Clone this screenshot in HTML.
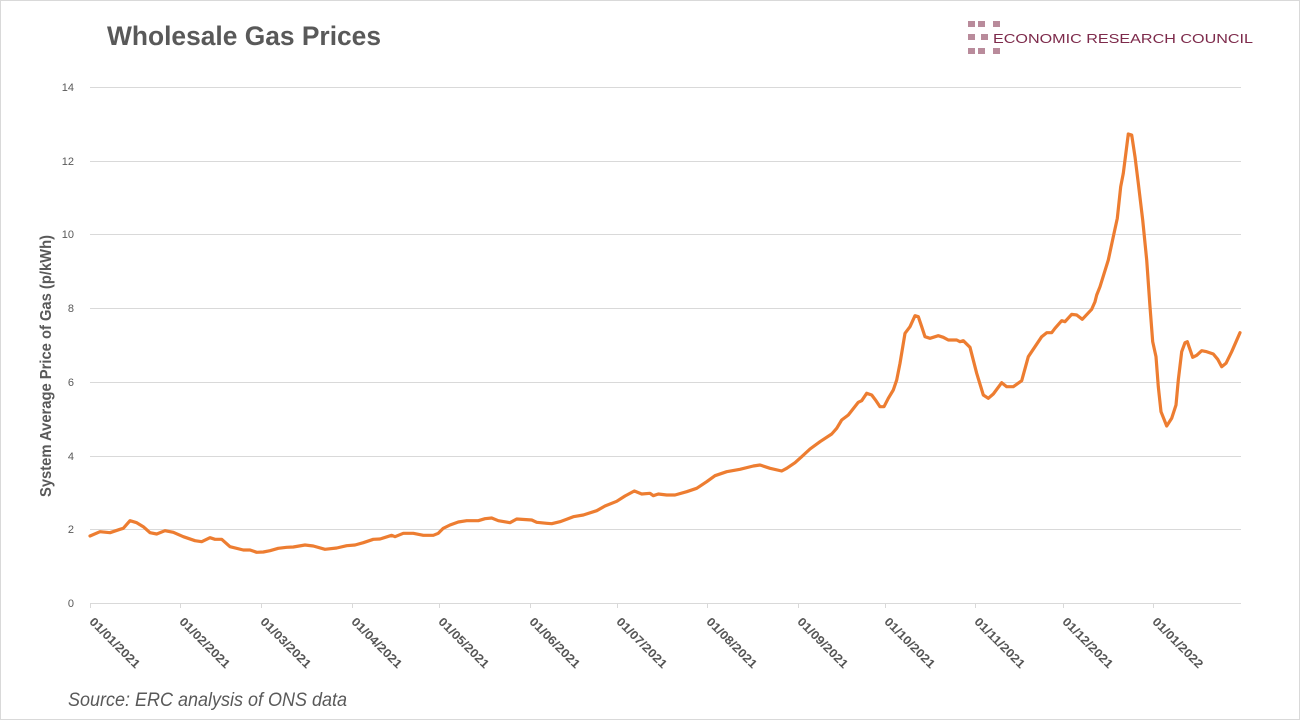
<!DOCTYPE html>
<html>
<head>
<meta charset="utf-8">
<style>
html,body{margin:0;padding:0;background:#fff;}
svg{display:block;}
</style>
</head>
<body>
<svg width="1300" height="720" viewBox="0 0 1300 720" xmlns="http://www.w3.org/2000/svg">
<rect x="0.5" y="0.5" width="1299" height="719" fill="#fff" stroke="#d9d9d9" stroke-width="1"/>

<!-- Title -->
<text x="107" y="45" font-family="Liberation Sans, sans-serif" font-weight="bold" font-size="27" fill="#595959" textLength="274" lengthAdjust="spacingAndGlyphs">Wholesale Gas Prices</text>

<!-- Logo -->
<g fill="#b98b9b">
<rect x="968" y="21" width="7" height="6"/>
<rect x="978" y="21" width="7" height="6"/>
<rect x="993" y="21" width="7" height="6"/>
<rect x="968" y="34" width="7" height="6"/>
<rect x="981" y="34" width="7" height="6"/>
<rect x="968" y="48" width="7" height="6"/>
<rect x="978" y="48" width="7" height="6"/>
<rect x="993" y="48" width="7" height="6"/>
</g>
<text x="993" y="43" font-family="Liberation Sans, sans-serif" font-size="12.5" fill="#7d2a4b" textLength="260" lengthAdjust="spacingAndGlyphs">ECONOMIC RESEARCH COUNCIL</text>

<!-- Gridlines -->
<g stroke="#d9d9d9" stroke-width="1">
<line x1="90" y1="87.5" x2="1241" y2="87.5"/>
<line x1="90" y1="161.5" x2="1241" y2="161.5"/>
<line x1="90" y1="234.5" x2="1241" y2="234.5"/>
<line x1="90" y1="308.5" x2="1241" y2="308.5"/>
<line x1="90" y1="382.5" x2="1241" y2="382.5"/>
<line x1="90" y1="456.5" x2="1241" y2="456.5"/>
<line x1="90" y1="529.5" x2="1241" y2="529.5"/>
<line x1="90" y1="603.5" x2="1241" y2="603.5"/>
<!-- ticks -->
<line x1="90.5" y1="603" x2="90.5" y2="608"/>
<line x1="180.5" y1="603" x2="180.5" y2="608"/>
<line x1="261.5" y1="603" x2="261.5" y2="608"/>
<line x1="352.5" y1="603" x2="352.5" y2="608"/>
<line x1="439.5" y1="603" x2="439.5" y2="608"/>
<line x1="530.5" y1="603" x2="530.5" y2="608"/>
<line x1="617.5" y1="603" x2="617.5" y2="608"/>
<line x1="707.5" y1="603" x2="707.5" y2="608"/>
<line x1="798.5" y1="603" x2="798.5" y2="608"/>
<line x1="885.5" y1="603" x2="885.5" y2="608"/>
<line x1="975.5" y1="603" x2="975.5" y2="608"/>
<line x1="1063.5" y1="603" x2="1063.5" y2="608"/>
<line x1="1153.5" y1="603" x2="1153.5" y2="608"/>
</g>

<!-- Y tick labels -->
<g font-family="Liberation Sans, sans-serif" font-size="11" fill="#595959" text-anchor="end">
<text x="74" y="91">14</text>
<text x="74" y="165">12</text>
<text x="74" y="238">10</text>
<text x="74" y="312">8</text>
<text x="74" y="386">6</text>
<text x="74" y="460">4</text>
<text x="74" y="533">2</text>
<text x="74" y="607">0</text>
</g>

<!-- Y axis title -->
<text transform="translate(51,366) rotate(-90)" text-anchor="middle" font-family="Liberation Sans, sans-serif" font-weight="bold" font-size="15.5" fill="#595959" textLength="262" lengthAdjust="spacingAndGlyphs">System Average Price of Gas (p/kWh)</text>

<!-- X labels -->
<g font-family="Liberation Sans, sans-serif" font-size="12" font-weight="bold" fill="#555555">
<text transform="translate(95,616) rotate(45)" y="9" textLength="66" lengthAdjust="spacingAndGlyphs">01/01/2021</text>
<text transform="translate(185,616) rotate(45)" y="9" textLength="66" lengthAdjust="spacingAndGlyphs">01/02/2021</text>
<text transform="translate(266,616) rotate(45)" y="9" textLength="66" lengthAdjust="spacingAndGlyphs">01/03/2021</text>
<text transform="translate(357,616) rotate(45)" y="9" textLength="66" lengthAdjust="spacingAndGlyphs">01/04/2021</text>
<text transform="translate(444,616) rotate(45)" y="9" textLength="66" lengthAdjust="spacingAndGlyphs">01/05/2021</text>
<text transform="translate(535,616) rotate(45)" y="9" textLength="66" lengthAdjust="spacingAndGlyphs">01/06/2021</text>
<text transform="translate(622,616) rotate(45)" y="9" textLength="66" lengthAdjust="spacingAndGlyphs">01/07/2021</text>
<text transform="translate(712,616) rotate(45)" y="9" textLength="66" lengthAdjust="spacingAndGlyphs">01/08/2021</text>
<text transform="translate(803,616) rotate(45)" y="9" textLength="66" lengthAdjust="spacingAndGlyphs">01/09/2021</text>
<text transform="translate(890,616) rotate(45)" y="9" textLength="66" lengthAdjust="spacingAndGlyphs">01/10/2021</text>
<text transform="translate(980,616) rotate(45)" y="9" textLength="66" lengthAdjust="spacingAndGlyphs">01/11/2021</text>
<text transform="translate(1068,616) rotate(45)" y="9" textLength="66" lengthAdjust="spacingAndGlyphs">01/12/2021</text>
<text transform="translate(1158,616) rotate(45)" y="9" textLength="66" lengthAdjust="spacingAndGlyphs">01/01/2022</text>
</g>

<!-- Series -->
<polyline fill="none" stroke="#ED7D31" stroke-width="3.2" stroke-linejoin="round" stroke-linecap="round" points="
90,536 100,531.7 110,532.7 120,529.3 123.3,528.3 130,520.7 136.7,522.7 143.3,526.7 150,532.7 156.7,534 165,530.7 173.3,532.3 183.3,536.7 195,540.7 201.7,541.7 210,537.7 215,539.3 221.7,539.3 230,546.7 243.3,550 250,550 256.7,552.3 263.3,552 270,550.7 278.3,548.3 286.7,547.3 293.3,547 305,545 313.3,546 325,549.3 336.7,548 346.7,545.7 355,545 363.3,542.7 373.3,539.3 380,539 391.7,535.3 395,536.7 403.3,533.3 413.3,533.3 423.3,535.3 433.3,535.3 438.3,533.3 443.3,528.3 450,525 458.3,522 466.7,520.7 478.3,520.7 485,518.7 491.7,518 498.3,520.7 510,522.7 516.7,519 531.7,520 536.7,522.3 546.7,523.3 551.7,523.7 560,521.7 566.7,519.3 573.3,516.7 583.3,515 596.7,510.7 605,506 616.7,501.3 625,496 634.3,491 641.7,494 650,493.3 653.3,495.7 658.3,494 666.7,495 675,495 686.7,491.7 696.7,488.3 706.7,481.7 715,475.7 726.7,471.7 740,469.3 753.3,466 760,465 770,468.3 781.7,471 786.7,468.3 795,462.7 801.7,456.7 810,449 820,441.7 831.7,434 836.7,428.3 841.7,420 848.3,415 858.3,402.3 861.7,400.7 866.7,393.3 871.7,395 876,400.7 880,406.7 884,406.7 888.3,398.3 893.3,390 896.7,380 900,363.3 905,333.3 910,326.7 915,315.7 918.3,316.7 921.7,326.7 925,336.7 930,338.3 938.3,335.7 943.3,337.3 948.3,340 956.7,340 960,341.7 963.3,340.7 970,347.3 976.7,373.3 983.3,395 988.3,398.3 993.3,394 1001.7,382.7 1006.7,386.7 1013.3,386.7 1021.7,380.7 1028.3,356.7 1035,346.7 1041.7,336.7 1046.7,332.7 1051.7,332.7 1055,328.3 1061.7,320.7 1065,321.7 1071.7,314.3 1076.7,315 1082.3,319.3 1091.7,309.3 1095,301.7 1096.7,295 1100,286.7 1108.3,260 1113.3,236.7 1117.3,218.3 1120.7,186.7 1123.3,173.3 1128.3,134 1131.7,135 1135,156.7 1138.3,183.3 1142.7,220 1146.7,260 1150,306.7 1152.7,341.7 1156,356.7 1158.3,386.7 1161,411.7 1166.7,426 1171.7,418.3 1176,405 1178.3,380 1181.7,351.7 1185,342.7 1187.3,341.7 1192.7,357.3 1196.7,355.3 1201.7,350.7 1206.7,351.7 1213.3,354 1217.7,359.3 1221.7,366.7 1226,363.3 1231.7,351.7 1240,332.7"/>

<!-- Source -->
<text x="68" y="706" font-family="Liberation Sans, sans-serif" font-style="italic" font-size="19" fill="#595959" textLength="279" lengthAdjust="spacingAndGlyphs">Source: ERC analysis of ONS data</text>
</svg>
</body>
</html>
